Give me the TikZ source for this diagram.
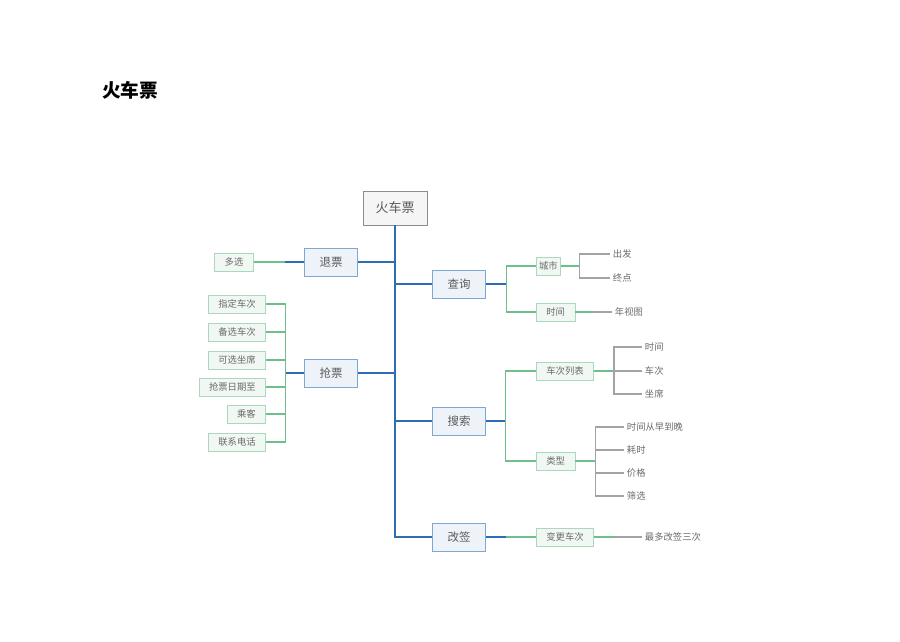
\documentclass[tikz,border=0pt]{standalone}
\usepackage{fontspec}
\setmainfont{Noto Sans CJK SC}
\usetikzlibrary{
  positioning,
  calc,
  shadows,
}
\definecolor{rootBorder}{HTML}{8C8C8C}
\definecolor{rootFill}{HTML}{F5F5F5}
\definecolor{mainBorder}{HTML}{7FA7D3}
\definecolor{mainFill}{HTML}{EEF3F9}
\definecolor{subBorder}{HTML}{A9D9BA}
\definecolor{subFill}{HTML}{F1F8F3}
\definecolor{trunkCol}{HTML}{2D6DB3}
\definecolor{greenLine}{HTML}{6DBF8C}
\definecolor{grayLine}{HTML}{A3A3A3}
\definecolor{textCol}{HTML}{5A5A5A}
\definecolor{textSub}{HTML}{6A6A6A}
\tikzset{
  rootbox/.style={
    rectangle, draw=rootBorder, fill=rootFill, text=textCol,
    minimum width=48pt, minimum height=25.5pt, inner sep=2pt,
    font=\fontsize{9.75}{11}\selectfont, line width=0.5pt,
    drop shadow={shadow xshift=0.6pt, shadow yshift=-0.6pt, fill=black!20},
  },
  mainbox/.style={
    rectangle, draw=mainBorder, fill=mainFill, text=textCol,
    minimum width=39.75pt, minimum height=21pt, inner sep=2pt,
    font=\fontsize{8.6}{10}\selectfont, line width=0.5pt,
    drop shadow={shadow xshift=0.3pt, shadow yshift=-0.6pt, fill=black!12},
  },
  subbox/.style={
    rectangle, draw=subBorder, fill=subFill, text=textSub,
    minimum width=28.5pt, minimum height=13.5pt, inner xsep=7.5pt, inner ysep=1pt,
    font=\fontsize{7}{8}\selectfont, line width=0.5pt,
  },
  leaf/.style={
    anchor=west, text=textSub, inner xsep=2pt, inner ysep=1pt,
    font=\fontsize{7}{8}\selectfont,
  },
  trunk/.style={trunkCol, line width=1.4pt},
  bline/.style={trunkCol, line width=0.8pt},
  gline/.style={greenLine, line width=0.8pt},
  grayline/.style={grayLine, line width=0.8pt},
}
\begin{document}
\begin{tikzpicture}[x=0.75pt, y=-0.75pt]
  \useasboundingbox (0,0) rectangle (900,642);

  \node[font=\fontsize{14}{16}\selectfont\bfseries] (title) at (130,90) {火车票};

  % root and main branches
  \node[rootbox] (root) at (395,208) {火车票};
  \node[mainbox] (tuipiao) at (331,262) {退票};
  \node[mainbox] (qiangpiao) at (331,373) {抢票};
  \node[mainbox] (chaxun) at (459,284) {查询};
  \node[mainbox] (sousuo) at (459,421) {搜索};
  \node[mainbox] (gaiqian) at (459,537) {改签};

  \draw[trunk] (root.south) -- (root.south |- gaiqian.west) -- (gaiqian.west);
  \draw[bline] (tuipiao.east) -- (root.south |- tuipiao.east);
  \draw[bline] (qiangpiao.east) -- (root.south |- qiangpiao.east);
  \draw[bline] (root.south |- chaxun.west) -- (chaxun.west);
  \draw[bline] (root.south |- sousuo.west) -- (sousuo.west);

  % 退票
  \node[subbox] (duoxuan) at (234,262) {多选};
  \draw[bline] (tuipiao.west) -- ++(-19,0) coordinate (tpb);
  \draw[gline] (tpb) -- (duoxuan.east);

  % 抢票
  \node[subbox, anchor=east] (q1) at (266,304) {指定车次};
  \node[subbox, anchor=east] (q2) at (266,332) {备选车次};
  \node[subbox, anchor=east] (q3) at (266,360) {可选坐席};
  \node[subbox, anchor=east] (q4) at (266,387) {抢票日期至};
  \node[subbox, anchor=east] (q5) at (266,414) {乘客};
  \node[subbox, anchor=east] (q6) at (266,442) {联系电话};
  \draw[bline] (qiangpiao.west) -- ++(-19,0) coordinate (qpb);
  \foreach \c in {q1,q2,q3,q4,q5,q6}
    \draw[gline] (qpb) |- (\c.east);

  % 查询
  \node[subbox, anchor=west, minimum width=18pt, inner xsep=1.5pt] (chengshi) at (536,266) {城市};
  \node[subbox, anchor=west] (shijian) at (536,312) {时间};
  \draw[bline] (chaxun.east) -- ++(21,0) coordinate (cxb);
  \draw[gline] (cxb) |- (chengshi.west);
  \draw[gline] (cxb) |- (shijian.west);

  \node[leaf] (chufa) at (610,254) {出发};
  \node[leaf] (zhongdian) at (610,278) {终点};
  \node[leaf] (nianshitu) at (612,312) {年视图};
  \draw[gline] (chengshi.east) -- ++(19,0) coordinate (csb);
  \draw[grayline] (csb) |- (chufa.west);
  \draw[grayline] (csb) |- (zhongdian.west);
  \draw[gline] (shijian.east) -- ++(18,0) coordinate (sjb);
  \draw[grayline] (sjb) -- (nianshitu.west);

  % 搜索
  \node[subbox, anchor=west] (liebiao) at (536,371) {车次列表};
  \node[subbox, anchor=west] (leixing) at (536,461) {类型};
  \draw[bline] (sousuo.east) -- ++(20,0) coordinate (ssb);
  \draw[gline] (ssb) |- (liebiao.west);
  \draw[gline] (ssb) |- (leixing.west);

  \node[leaf] (lb1) at (642,347) {时间};
  \node[leaf] (lb2) at (642,371) {车次};
  \node[leaf] (lb3) at (642,394) {坐席};
  \draw[gline] (liebiao.east) -- ++(20,0) coordinate (lbb);
  \foreach \c in {lb1,lb2,lb3}
    \draw[grayline] (lbb) |- (\c.west);

  \node[leaf] (lx1) at (624,427) {时间从早到晚};
  \node[leaf] (lx2) at (624,450) {耗时};
  \node[leaf] (lx3) at (624,473) {价格};
  \node[leaf] (lx4) at (624,496) {筛选};
  \draw[gline] (leixing.east) -- ++(20,0) coordinate (lxb);
  \foreach \c in {lx1,lx2,lx3,lx4}
    \draw[grayline] (lxb) |- (\c.west);

  % 改签
  \node[subbox, anchor=west] (biangeng) at (536,537) {变更车次};
  \node[leaf] (zuiduo) at (642,537) {最多改签三次};
  \draw[bline] (gaiqian.east) -- ++(20,0) coordinate (gqb);
  \draw[gline] (gqb) -- (biangeng.west);
  \draw[gline] (biangeng.east) -- ++(20,0) coordinate (bgb);
  \draw[grayline] (bgb) -- (zuiduo.west);

\end{tikzpicture}
\end{document}
